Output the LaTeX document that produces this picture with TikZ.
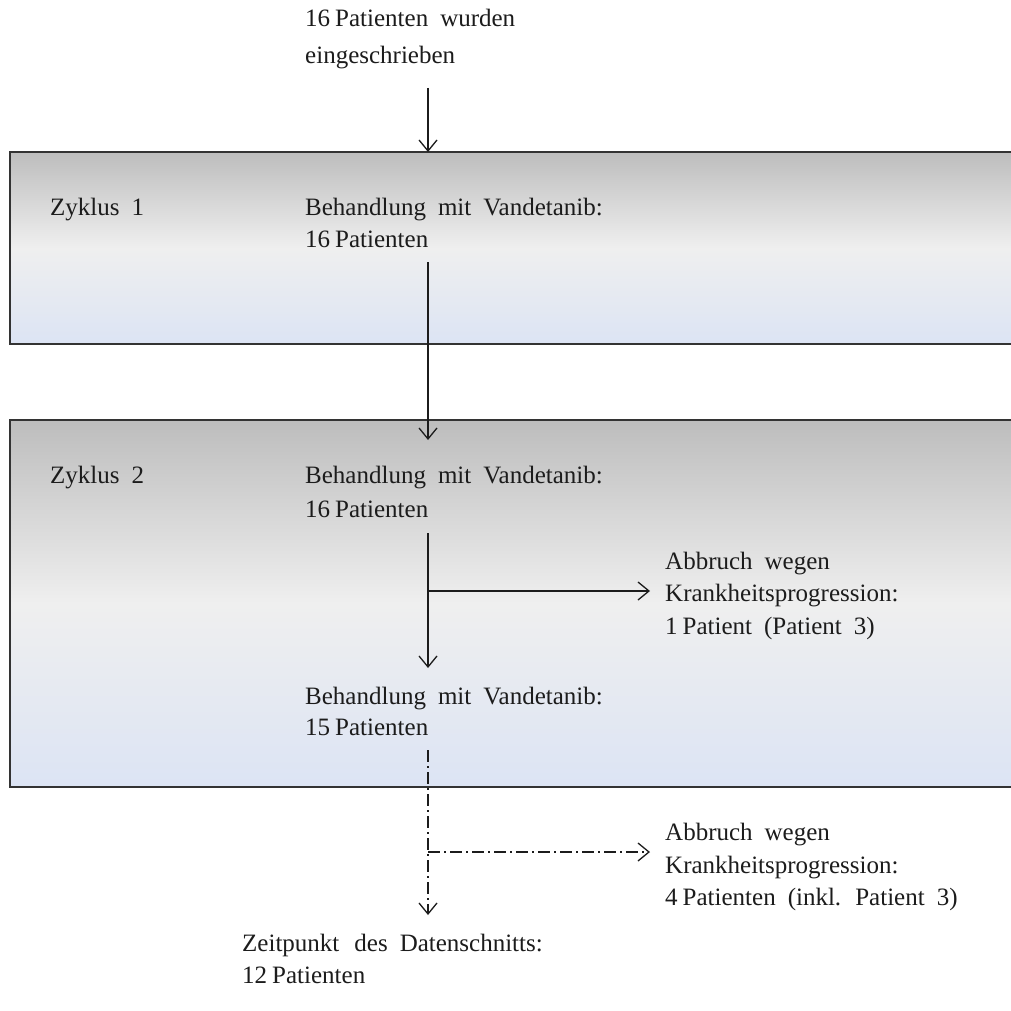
\documentclass[tikz,border=0pt]{standalone}
\usepackage{fontspec}
\setmainfont{Liberation Serif}
\usetikzlibrary{arrows.meta}
\definecolor{boxtop}{HTML}{BDBDBD}
\definecolor{boxmid}{HTML}{EFEFEF}
\definecolor{boxbot}{HTML}{DCE4F4}
\definecolor{ink}{HTML}{1C1C1C}
\newcommand{\widewords}{\spaceskip=12pt\relax}
\newcommand{\ns}{\hspace{5pt}}
\begin{document}
\begin{tikzpicture}[x=1pt,y=-1pt,
  txt/.style={anchor=base west, inner sep=0pt, text=ink,
    font=\fontsize{25}{32}\selectfont, execute at begin node=\widewords},
  cyclebox/.style={draw=ink!90, line width=1.6pt, top color=boxtop, bottom color=boxbot, middle color=boxmid},
  tip/.style={-{Straight Barb[length=11pt,width=18pt,line width=1.3pt]}},
  flow/.style={draw=ink, line width=1.3pt},
  dashflow/.style={flow, dash pattern=on 12pt off 4pt on 2pt off 4pt}
]
\path[use as bounding box, clip] (0,0) rectangle (1011,1011);
\fill[white] (0,0) rectangle (1011,1011);

% cycle boxes
\path[cyclebox] (10,152) rectangle (1030,344);
\path[cyclebox] (10,420) rectangle (1030,787);

% texts
\node[txt] (t1a) at (305,27) {16\ns Patienten wurden};
\node[txt] (t1b) at (305,64) {eingeschrieben};

\node[txt] (z1) at (50,215) {Zyklus 1};
\node[txt] (b1a) at (305,215) {Behandlung mit Vandetanib:};
\node[txt] (b1b) at (305,247) {16\ns Patienten};

\node[txt] (z2) at (50,483) {Zyklus 2};
\node[txt] (b2a) at (305,483) {Behandlung mit Vandetanib:};
\node[txt] (b2b) at (305,517) {16\ns Patienten};

\node[txt] (x1a) at (665,569) {Abbruch wegen};
\node[txt] (x1b) at (665,601) {Krankheitsprogression:};
\node[txt] (x1c) at (665,634) {1\ns Patient (Patient 3)};

\node[txt] (b3a) at (305,704) {Behandlung mit Vandetanib:};
\node[txt] (b3b) at (305,735) {15\ns Patienten};

\node[txt] (x2a) at (665,840) {Abbruch wegen};
\node[txt] (x2b) at (665,873) {Krankheitsprogression:};
\node[txt] (x2c) at (665,905) {4\ns Patienten (inkl. Patient 3)};

\node[txt] (e1) at (242,951) {Zeitpunkt\hspace{3pt} des Datenschnitts:};
\node[txt] (e2) at (242,983) {12\ns Patienten};

% connector end points
\coordinate (a0) at (428,88);
\coordinate (a1) at (428,152);
\coordinate (p0) at (428,262);
\coordinate (p1) at (428,440);
\coordinate (q0) at (428,533);
\coordinate (q1) at (428,668);
\coordinate (qj) at (428,591);
\coordinate (qr) at (650,591);
\coordinate (r0) at (428,750);
\coordinate (r1) at (428,915);
\coordinate (rj) at (428,852);
\coordinate (rr) at (650,852);

% connectors
\draw[flow, tip] (a0) -- (a1);
\draw[flow, tip] (p0) -- (p1);
\draw[flow, tip] (q0) -- (q1);
\draw[flow, tip] (qj) -- (qr);
\draw[dashflow, tip] (r0) -- (r1);
\draw[dashflow, tip] (rj) -- (rr);
\end{tikzpicture}
\end{document}
